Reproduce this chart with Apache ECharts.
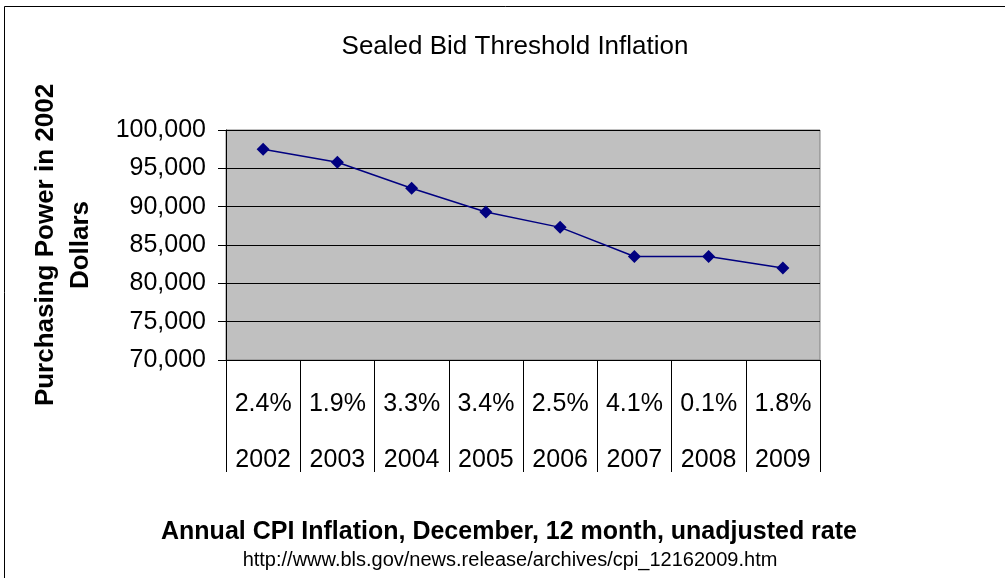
<!DOCTYPE html>
<html>
<head>
<meta charset="utf-8">
<script src="https://cdn.jsdelivr.net/npm/echarts@6/dist/echarts.min.js"></script>
<style>
  html, body { margin: 0; padding: 0; background: #fff; }
  #main { width: 1005px; height: 578px; }
</style>
</head>
<body>
<div id="main"></div>
<script>
// 数据
var years = ['2002', '2003', '2004', '2005', '2006', '2007', '2008', '2009']
var cpiRates = ['2.4%', '1.9%', '3.3%', '3.4%', '2.5%', '4.1%', '0.1%', '1.8%']
var power = [97500, 95800, 92400, 89300, 87300, 83500, 83500, 82000]

var font = 'Liberation Sans, Arial, sans-serif'

var option = {
  animation: false,
  backgroundColor: '#fff',
  title: [
    {
      text: 'Sealed Bid Threshold Inflation',
      left: 510,
      top: 29,
      textAlign: 'center',
      textStyle: { fontFamily: font, fontSize: 26, fontWeight: 'normal', color: '#000' }
    },
    {
      text: 'Annual CPI Inflation, December, 12 month, unadjusted rate',
      left: 504,
      top: 515,
      textAlign: 'center',
      textStyle: { fontFamily: font, fontSize: 25, fontWeight: 'bold', color: '#000' }
    },
    {
      text: 'http://www.bls.gov/news.release/archives/cpi_12162009.htm',
      left: 505,
      top: 545,
      textAlign: 'center',
      textStyle: { fontFamily: font, fontSize: 20, fontWeight: 'normal', color: '#000' }
    }
  ],
  graphic: [
    {
      type: 'rect',
      shape: { x: 4.5, y: 6.5, width: 1100, height: 700 },
      style: { fill: 'none', stroke: '#000', lineWidth: 1 },
      silent: true
    }
  ],
  grid: {
    left: 226,
    right: 185,
    top: 130,
    bottom: 218,
    outerBoundsMode: 'none',
    containLabel: false,
    show: true,
    backgroundColor: '#C0C0C0',
    borderColor: '#808080',
    borderWidth: 1
  },
  xAxis: {
    type: 'category',
    data: years,
    boundaryGap: true,
    axisLine: { show: true, lineStyle: { color: '#000', width: 1 } },
    axisTick: {
      show: true,
      interval: 0,
      length: 112,
      lineStyle: { color: '#000', width: 1 }
    },
    axisLabel: {
      interval: 0,
      margin: 16,
      lineHeight: 56,
      fontFamily: font,
      fontSize: 25,
      color: '#000',
      formatter: function (v, i) {
        return cpiRates[i] + '\n' + v
      }
    },
    splitLine: { show: false }
  },
  yAxis: {
    type: 'value',
    min: 70000,
    max: 100000,
    interval: 5000,
    name: 'Purchasing Power in 2002\nDollars',
    nameLocation: 'middle',
    nameGap: 128,
    nameTextStyle: {
      fontFamily: font,
      fontSize: 26,
      fontWeight: 'bold',
      color: '#000',
      lineHeight: 35
    },
    axisLine: { show: true, lineStyle: { color: '#000', width: 1 } },
    axisTick: { show: true, length: 8, lineStyle: { color: '#000' } },
    axisLabel: {
      margin: 20,
      fontFamily: font,
      fontSize: 25,
      color: '#000',
      formatter: function (v) {
        return v.toString().replace(/\B(?=(\d{3})+(?!\d))/g, ',')
      }
    },
    splitLine: { show: true, lineStyle: { color: '#000', width: 1 } }
  },
  series: [
    {
      name: 'Purchasing Power',
      type: 'line',
      data: power,
      symbol: 'diamond',
      symbolSize: 13,
      lineStyle: { color: '#000080', width: 1.5 },
      itemStyle: { color: '#000080' }
    }
  ]
}

var myChart = echarts.init(document.getElementById('main'))
myChart.setOption(option)
window.addEventListener('resize', function () {
  myChart.resize()
})
</script>
</body>
</html>
